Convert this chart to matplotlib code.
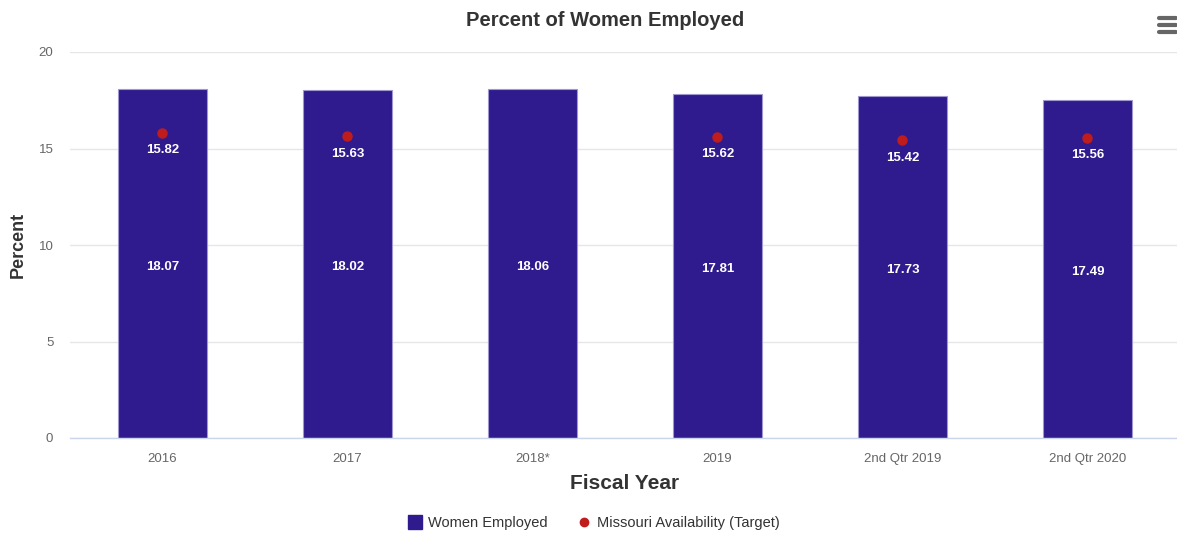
import matplotlib
matplotlib.use("Agg")
import matplotlib.pyplot as plt
import numpy as np

plt.rcParams['font.family'] = ['Liberation Sans', 'DejaVu Sans']

categories = ["2016", "2017", "2018*", "2019", "2nd Qtr 2019", "2nd Qtr 2020"]
women_employed = [18.07, 18.02, 18.06, 17.81, 17.73, 17.49]
missouri_target = [15.82, 15.63, np.nan, 15.62, 15.42, 15.56]
y_ticks = [0, 5, 10, 15, 20]

W, H = 1177, 533
fig = plt.figure(figsize=(W / 100, H / 100), dpi=100)
ax = fig.add_axes([70 / W, 1 - 438 / H, (1180 - 70) / W, (438 - 52) / H])

bar_color = "#2f1b8e"
dot_color = "#c01c1c"
x = np.arange(len(categories))

ax.bar(x, women_employed, width=0.48, color=bar_color, edgecolor="#9f97d0",
       linewidth=0.8, zorder=2, label="Women Employed")
ax.plot(x, missouri_target, linestyle="none", marker="o", markersize=6.5,
        color=dot_color, zorder=3, label="Missouri Availability (Target)")

for xi, v in zip(x, women_employed):
    ax.text(xi, v / 2 - 0.15, f"{v:.2f}", ha="center", va="center", color="white",
            fontsize=9.5, fontweight="bold", zorder=4)
for xi, v in zip(x, missouri_target):
    if not np.isnan(v):
        ax.text(xi, v - 0.9, f"{v:.2f}", ha="center", va="center", color="white",
                fontsize=9.5, fontweight="bold", zorder=4)

ax.set_xlim(-0.5, 5.5)
ax.set_ylim(0, 20)
ax.set_yticks(y_ticks)
ax.set_yticklabels([str(t) for t in y_ticks])
ax.set_xticks(x)
ax.set_xticklabels(categories)
ax.tick_params(axis="both", length=0, colors="#666666", labelsize=9.5)
ax.tick_params(axis="x", pad=11)
ax.tick_params(axis="y", pad=12)
ax.grid(axis="y", color="#e6e6e6", linewidth=1, zorder=0)
ax.set_axisbelow(True)
for s in ["top", "right", "left"]:
    ax.spines[s].set_visible(False)
ax.spines["bottom"].set_color("#ccd6eb")
ax.spines["bottom"].set_linewidth(1)

ax.set_xlabel("Fiscal Year", fontsize=15, fontweight="bold", color="#333333", labelpad=6)
ax.set_ylabel("Percent", fontsize=13, fontweight="bold", color="#333333")
ax.yaxis.set_label_coords((27 - 70) / 1110, 0.5)

fig.text(605 / W, 1 - 21 / H, "Percent of Women Employed", ha="center", va="center",
         fontsize=14.5, fontweight="bold", color="#333333")

# legend
handles = [
    plt.Line2D([], [], linestyle="none", marker="s", markersize=10, color=bar_color),
    plt.Line2D([], [], linestyle="none", marker="o", markersize=6, color=dot_color),
]
fig.legend(handles, ["Women Employed", "Missouri Availability (Target)"],
           loc="center", bbox_to_anchor=(594 / W, 1 - 523 / H), ncol=2, frameon=False,
           fontsize=10.5, labelcolor="#333333", handletextpad=0.4, columnspacing=2.0,
           handlelength=1.0)

# menu icon
for yy in (18, 25, 32):
    fig.add_artist(plt.Line2D([1159 / W, 1176 / W], [1 - yy / H, 1 - yy / H],
                              color="#666666", linewidth=3, solid_capstyle="round"))

fig.savefig("out.png", dpi=100)
